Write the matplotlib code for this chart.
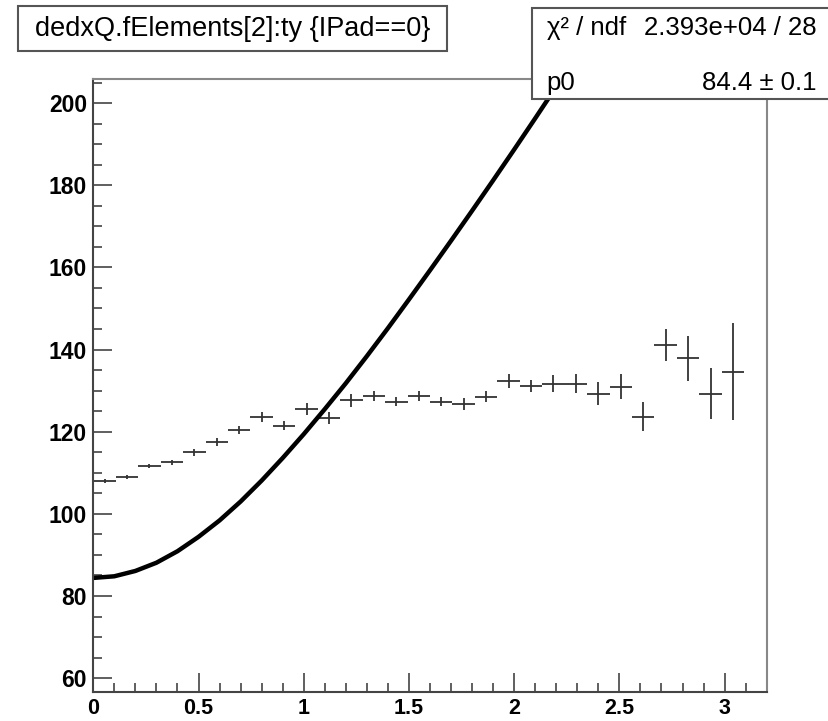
import numpy as np
import matplotlib
matplotlib.use('Agg')
import matplotlib.pyplot as plt
from matplotlib.patches import Rectangle

plt.rcParams['font.family'] = ['Liberation Sans', 'DejaVu Sans']

#############Data#############
bin_width = 0.10667
bin_centers = (np.arange(29) + 0.5) * bin_width
prof_mean = [108.0, 108.9, 111.6, 112.6, 115.0, 117.5, 120.5, 123.5, 121.4, 125.5,
             123.4, 127.6, 128.7, 127.3, 128.7, 127.3, 126.7, 128.5, 132.4, 131.1,
             131.7, 131.7, 129.3, 131.0, 123.7, 141.1, 137.9, 129.3, 134.6]
prof_err = [0.4, 0.5, 0.5, 0.6, 0.8, 0.9, 1.0, 1.2, 1.1, 1.4,
            1.5, 1.6, 1.3, 1.1, 1.3, 1.15, 1.5, 1.3, 1.75, 1.5,
            2.1, 2.35, 2.7, 3.1, 3.5, 3.9, 5.5, 6.3, 11.8]

# fit curve
fit_x = [0.0, 0.1, 0.2, 0.3, 0.4, 0.5, 0.6, 0.7, 0.8, 0.9, 1.0, 1.1,
         1.2, 1.3, 1.4, 1.5, 1.6, 1.7, 1.8, 1.9, 2.0, 2.1, 2.2, 2.3]
fit_y = [84.4, 84.8, 86.1, 88.1, 90.9, 94.4, 98.4, 103.0, 108.1, 113.6, 119.4, 125.5,
         131.8, 138.4, 145.2, 152.2, 159.3, 166.5, 173.8, 181.2, 188.7, 196.3, 204.0, 211.7]

title_text = 'dedxQ.fElements[2]:ty {IPad==0}'
stats_rows = [('χ² / ndf', '2.393e+04 / 28'), ('p0', '84.4 ± 0.1')]
###################################################

W, H = 829, 721
fig = plt.figure(figsize=(W / 100, H / 100), dpi=100)
ax = fig.add_axes([93.3 / W, 1 - 691.7 / H, (766.7 - 93.3) / W, (691.7 - 79.3) / H])

ax.errorbar(bin_centers, prof_mean, xerr=bin_width / 2, yerr=prof_err, fmt='none',
            ecolor='#333333', elinewidth=1.3, capsize=0)
ax.plot(fit_x, fit_y, color='black', lw=3.2, solid_capstyle='butt')

ax.set_xlim(0, 3.2)
ax.set_ylim(56.7, 205.8)
ax.set_xticks(np.arange(0, 3.01, 0.5))
ax.set_xticklabels(['0', '0.5', '1', '1.5', '2', '2.5', '3'])
ax.set_xticks(np.arange(0, 3.21, 0.1), minor=True)
ax.set_yticks(np.arange(60, 201, 20))
ax.set_yticks(np.arange(60, 206, 5), minor=True)

ax.tick_params(which='both', direction='in', color='#444444', width=1.2,
               top=False, right=False)
ax.tick_params(which='major', length=13.5, labelsize=16.5)
ax.tick_params(axis='x', which='major', pad=4.5, labelsize=15.5)
ax.tick_params(axis='y', which='major', pad=4.5)
ax.tick_params(which='minor', length=6.5)
for lab in ax.get_xticklabels() + ax.get_yticklabels():
    lab.set_fontweight('bold')
for side, sp in ax.spines.items():
    sp.set_linewidth(1.5)
    sp.set_color('#444444' if side in ('left', 'bottom') else '#888888')

# title box
fig.patches.append(Rectangle((18.3 / W, 1 - 51 / H), (446.7 - 18.3) / W, (51 - 5.7) / H,
                             transform=fig.transFigure, facecolor='white',
                             edgecolor='#555555', lw=1.5, zorder=5))
fig.text((18.3 + 446.7) / 2 / W, 1 - 28.5 / H, title_text, ha='center', va='center',
         fontsize=19.5, zorder=6)

# stats box
fig.patches.append(Rectangle((531.7 / W, 1 - 99.3 / H), (840 - 531.7) / W, (99.3 - 8.3) / H,
                             transform=fig.transFigure, facecolor='white',
                             edgecolor='#555555', lw=1.5, zorder=5))
row_y = [28, 83]
for (name, val), yy in zip(stats_rows, row_y):
    fig.text(546.7 / W, 1 - yy / H, name, ha='left', va='center', fontsize=18.5, zorder=6)
    fig.text(816.7 / W, 1 - yy / H, val, ha='right', va='center', fontsize=18.5, zorder=6)

fig.savefig('out.png', dpi=100)
